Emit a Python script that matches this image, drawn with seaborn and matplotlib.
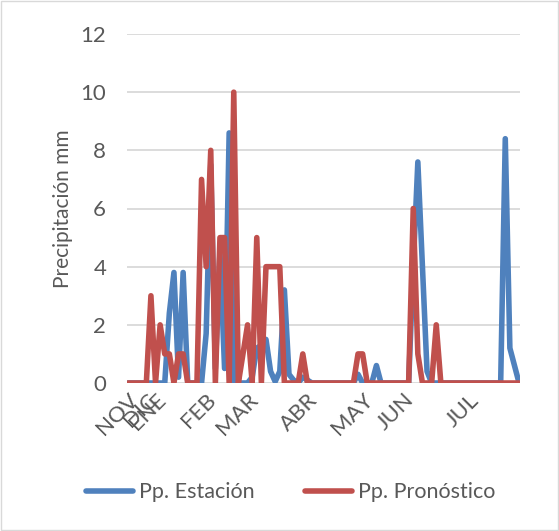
import numpy as np
import pandas as pd
import matplotlib
matplotlib.use("Agg")
import matplotlib.pyplot as plt
import seaborn as sns
from matplotlib.patches import Rectangle

sns.set_style("white")
plt.rcParams['font.family'] = ['Lato', 'DejaVu Sans']

N = 86
# sparse readings: index -> value (all others 0)
estacion_pts = {9: 2.4, 10: 3.8, 11: 0.2, 12: 3.8, 17: 1.7, 18: 7.5, 19: 0.5, 20: 4.5,
                21: 0.5, 22: 8.6, 27: 0.2, 28: 1.2, 29: 1.3, 30: 1.5, 31: 0.4, 32: 0.05,
                33: 0.4, 34: 3.2, 35: 0.3, 36: 0.1, 38: 0.2, 39: 0.1, 50: 0.3, 54: 0.6,
                62: 4.0, 63: 7.6, 64: 4.0, 65: 0.4, 82: 8.4, 83: 1.2, 84: 0.6}
pronostico_pts = {5: 3, 7: 2, 8: 1, 9: 1, 11: 1, 12: 1, 16: 7, 17: 4, 18: 8, 20: 5, 21: 5,
                  23: 10, 25: 1, 26: 2, 28: 5, 30: 4, 31: 4, 32: 4, 33: 4, 38: 1, 50: 1,
                  51: 1, 62: 6, 63: 1, 67: 2}
pp_estacion = [estacion_pts.get(i, 0.0) for i in range(N)]
pp_pronostico = [pronostico_pts.get(i, 0.0) for i in range(N)]

month_labels = ["NOV", "DIC", "ENE", "FEB", "MAR", "ABR", "MAY", "JUN", "JUL"]
month_pos = [0, 4, 6, 17, 26, 39, 51, 60, 74]

df = pd.DataFrame({
    "idx": list(range(N)) * 2,
    "pp": pp_estacion + pp_pronostico,
    "serie": ["Pp. Estación"] * N + ["Pp. Pronóstico"] * N,
})

fig = plt.figure(figsize=(5.59, 5.31), dpi=100)
ax = fig.add_axes([127 / 559, 1 - 383 / 531, (520 - 127) / 559, (383 - 34) / 531])

sns.lineplot(data=df, x="idx", y="pp", hue="serie",
             palette={"Pp. Estación": "#4F81BD", "Pp. Pronóstico": "#C0504D"},
             linewidth=4.0, ax=ax, legend=True)
for l in ax.lines:
    l.set_solid_joinstyle("round")
    l.set_solid_capstyle("round")

ax.set_ylim(0, 12)
ax.set_xlim(-0.2, 85.2)
ax.set_yticks(range(0, 13, 2))
ax.grid(axis="y", color="#d9d9d9", linewidth=1.3)
ax.set_axisbelow(True)
for s in ax.spines.values():
    s.set_visible(False)
ax.tick_params(axis="both", length=0, labelsize=16, labelcolor="#595959")
ax.tick_params(axis="y", pad=15)
ax.set_xticks(month_pos)
ax.set_xticklabels(month_labels, rotation=45, ha="right", rotation_mode="anchor")
ax.tick_params(axis="x", pad=5)
ax.set_xlabel("")
ax.set_ylabel("Precipitación mm", fontsize=15, color="#595959", labelpad=5)

leg = ax.legend(loc="center", bbox_to_anchor=(0.52, 0.073), bbox_transform=fig.transFigure,
                ncol=2, frameon=False, fontsize=15.5, handlelength=2.2, columnspacing=2.3,
                handletextpad=0.3)
for t in leg.get_texts():
    t.set_color("#595959")
for h in leg.get_lines():
    h.set_linewidth(4.0)

fig.patches.append(Rectangle((0.002, 0.002), 0.996, 0.996, transform=fig.transFigure,
                             fill=False, edgecolor="#d9d9d9", linewidth=1))
fig.savefig("out.png", dpi=100)
